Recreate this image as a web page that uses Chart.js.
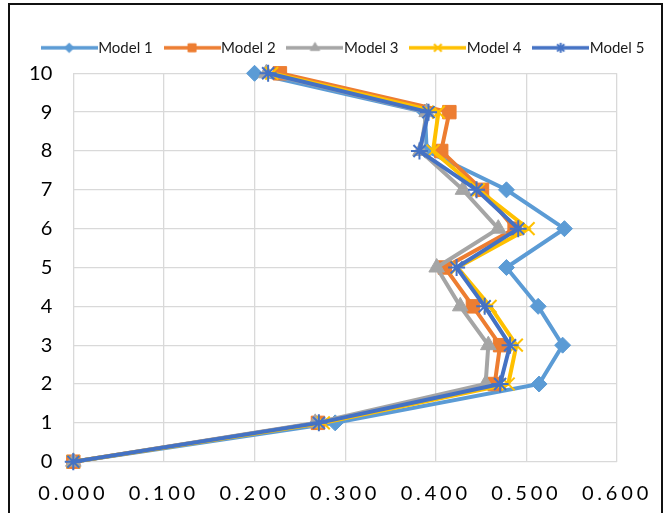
<!DOCTYPE html>
<html>
<head>
<meta charset="utf-8">
<script src="https://cdn.jsdelivr.net/npm/chart.js@4/dist/chart.umd.min.js"></script>
<style>
  html, body { margin: 0; padding: 0; background: #fff; overflow: hidden; }
  #wrap { position: absolute; left: 0; top: 0; width: 670px; height: 513px; }
  #c { position: absolute; left: 0; top: 0; }
  #frame { position: absolute; left: 8px; top: 3px; width: 655px; height: 540px;
           border: 2px solid #111; box-sizing: border-box; pointer-events: none; }
</style>
</head>
<body>
<div id="wrap">
  <canvas id="c" width="670" height="513"></canvas>
  <div id="frame"></div>
</div>
<script>
// Floor levels (vertical axis) and the response value of each model per floor
const floors = [0, 1, 2, 3, 4, 5, 6, 7, 8, 9, 10];
const model1 = [0, 0.289, 0.514, 0.540, 0.513, 0.478, 0.542, 0.478, 0.390, 0.388, 0.200];
const model2 = [0, 0.270, 0.465, 0.471, 0.441, 0.410, 0.487, 0.451, 0.406, 0.415, 0.228];
const model3 = [0, 0.267, 0.455, 0.458, 0.427, 0.401, 0.469, 0.430, 0.383, 0.390, 0.213];
const model4 = [0, 0.276, 0.480, 0.489, 0.460, 0.424, 0.502, 0.447, 0.397, 0.403, 0.219];
const model5 = [0, 0.271, 0.471, 0.482, 0.454, 0.423, 0.491, 0.445, 0.382, 0.392, 0.215];

const seriesNames = ['Model 1', 'Model 2', 'Model 3', 'Model 4', 'Model 5'];
const seriesValues = [model1, model2, model3, model4, model5];
const seriesColors = ['#5B9BD5', '#ED7D31', '#A5A5A5', '#FFC000', '#4472C4'];
const seriesMarkers = ['rectRot', 'rect', 'triangle', 'crossRot', 'star'];
const markerRadius = [8, 9.5, 9, 9, 8.5];
const markerBorder = [1, 1, 1, 2, 2];

// Linear scale whose tick labels are drawn with extra letter spacing
class SpacedLinearScale extends Chart.LinearScale {
  drawLabels(chartArea) {
    const ctx = this.ctx;
    ctx.save();
    if ('letterSpacing' in ctx) ctx.letterSpacing = '3.8px';
    super.drawLabels(chartArea);
    ctx.restore();
  }
}
SpacedLinearScale.id = 'spacedLinear';
SpacedLinearScale.defaults = Chart.LinearScale.defaults;
Chart.register(SpacedLinearScale);

// Legend sample: a short line with the series marker in the middle
function legendIcon(i) {
  const cv = document.createElement('canvas');
  cv.width = 57; cv.height = 16;
  const g = cv.getContext('2d');
  g.strokeStyle = seriesColors[i];
  g.lineWidth = 3.5;
  g.beginPath(); g.moveTo(0, 8); g.lineTo(57, 8); g.stroke();
  g.fillStyle = seriesColors[i];
  g.strokeStyle = seriesColors[i];
  g.lineWidth = markerBorder[i];
  Chart.helpers.drawPoint(g, { pointStyle: seriesMarkers[i], radius: markerRadius[i] * 0.6, rotation: 0, borderWidth: markerBorder[i] }, 28.5, 8);
  return cv;
}

// Leave a little more room between the legend row and the plot area
const legendLift = {
  id: 'legendLift',
  afterLayout(chart) {
    if (chart.legend) {
      chart.legend.top -= 8;
      chart.legend.bottom -= 8;
    }
  }
};

const datasets = seriesNames.map((name, i) => ({
  label: name,
  data: floors.map((f, k) => ({ x: seriesValues[i][k], y: f })),
  showLine: true,
  clip: false,
  borderColor: seriesColors[i],
  backgroundColor: seriesColors[i],
  borderWidth: 4,
  pointStyle: seriesMarkers[i],
  pointRadius: markerRadius[i],
  pointBorderWidth: markerBorder[i],
  pointBackgroundColor: seriesColors[i],
  pointBorderColor: seriesColors[i],
  tension: 0,
  order: seriesNames.length - i
}));

const tickFont = { family: 'Lato', size: 20 };

new Chart(document.getElementById('c'), {
  type: 'scatter',
  data: { datasets },
  plugins: [legendLift],
  options: {
    responsive: false,
    animation: false,
    devicePixelRatio: 1,
    layout: { padding: { left: 22, right: 0, top: 20, bottom: 0 } },
    plugins: {
      tooltip: { enabled: false },
      legend: {
        display: true,
        position: 'top',
        labels: {
          usePointStyle: true,
          pointStyleWidth: 43,
          boxHeight: 14,
          padding: 17.8,
          color: '#1a1a1a',
          font: { family: 'Lato', size: 15 },
          generateLabels: (chart) => chart.data.datasets.map((ds, i) => ({
            text: ds.label,
            pointStyle: legendIcon(i),
            fillStyle: seriesColors[i],
            strokeStyle: seriesColors[i],
            lineWidth: 0,
            hidden: false,
            fontColor: '#1a1a1a',
            datasetIndex: i
          }))
        }
      }
    },
    scales: {
      x: {
        type: 'spacedLinear',
        min: 0, max: 0.6,
        grid: { color: '#D9D9D9', lineWidth: 1.3, drawTicks: false },
        border: { display: false },
        ticks: {
          stepSize: 0.1,
          padding: 20,
          color: '#000',
          font: tickFont,
          maxRotation: 0,
          callback: (v) => Number(v).toFixed(3)
        },
        afterFit: (s) => { s.height = 51.3; s.paddingRight = 53; s.paddingLeft = 0; }
      },
      y: {
        type: 'linear',
        min: 0, max: 10,
        grid: { color: '#D9D9D9', lineWidth: 1.3, drawTicks: false },
        border: { display: false },
        ticks: {
          stepSize: 1,
          padding: 21,
          color: '#000',
          font: tickFont
        },
        afterFit: (s) => { s.width = 51.3; s.paddingTop = 73.3; }
      }
    }
  }
});
</script>
</body>
</html>
